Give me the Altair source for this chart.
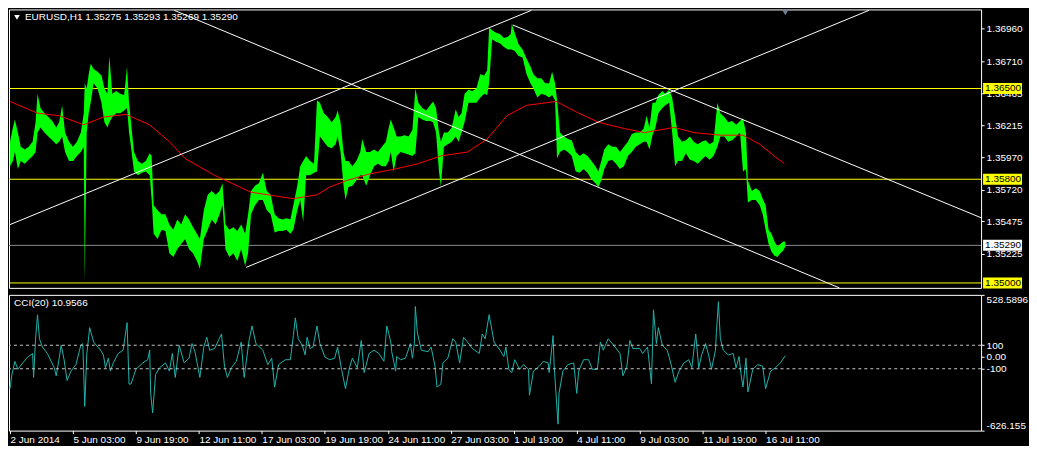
import altair as alt
import pandas as pd

# ---------------- data ----------------
# hourly bar index (0 = first bar on screen) and sampled high / low prices
bar_x = [
    0, 3, 5, 8, 11, 15, 19, 23, 26, 28,
    31, 35, 39, 43, 47, 50, 53, 56, 60, 64,
    68, 72, 75, 76, 78, 80, 82, 85, 89, 93,
    96, 99, 101, 104, 108, 112, 116, 119, 121, 123,
    126, 130, 134, 138, 142, 144, 146, 150, 154, 158,
    162, 166, 170, 174, 178, 182, 186, 190, 193, 197,
    201, 205, 209, 213, 216, 219, 223, 227, 231, 235,
    239, 242, 245, 249, 253, 257, 261, 265, 269, 273,
    277, 281, 285, 288, 292, 295, 298, 301, 305, 309,
    312, 315, 319, 323, 327, 331, 333, 336, 339, 341,
    344, 348, 352, 356, 358, 362, 366, 370, 374, 378,
    382, 385, 387, 390, 393, 397, 401, 405, 409, 412,
    415, 419, 423, 427, 430, 433, 436, 438, 441, 445,
    449, 453, 456, 459, 462, 466, 470, 474, 478, 482,
    485, 487, 490, 494, 498, 502, 506, 509, 510, 513,
    517, 521, 525, 529, 532, 536, 540, 544, 548, 551,
    554, 556, 559, 563, 567, 571, 575, 579, 583, 587,
    591, 595, 598, 601, 604, 608, 612, 616, 620, 624,
    628, 632, 636, 640, 644, 647, 650, 653, 656, 659,
    663, 666, 670, 673, 676, 679, 683, 687, 691, 695,
    699, 703, 707, 711, 715, 719, 722, 726, 730, 734,
    738, 742, 745, 748, 750, 754, 758, 762, 765, 768,
    771, 774, 777, 780, 783, 786, 788,
]
bar_high = [
    1.3609, 1.3620, 1.3626, 1.3616, 1.3605, 1.3603, 1.3605, 1.3609, 1.3624, 1.3646,
    1.3635, 1.3631, 1.3628, 1.3625, 1.3620, 1.3624, 1.3637, 1.3616, 1.3609, 1.3605,
    1.3609, 1.3616, 1.3631, 1.3654, 1.3650, 1.3661, 1.3669, 1.3665, 1.3663, 1.3660,
    1.3650, 1.3646, 1.3675, 1.3646, 1.3648, 1.3646, 1.3645, 1.3667, 1.3639, 1.3624,
    1.3601, 1.3594, 1.3592, 1.3594, 1.3600, 1.3598, 1.3560, 1.3556, 1.3553, 1.3553,
    1.3545, 1.3541, 1.3549, 1.3545, 1.3553, 1.3549, 1.3543, 1.3538, 1.3534, 1.3556,
    1.3568, 1.3571, 1.3568, 1.3571, 1.3577, 1.3545, 1.3541, 1.3543, 1.3540, 1.3545,
    1.3538, 1.3553, 1.3571, 1.3575, 1.3577, 1.3585, 1.3571, 1.3568, 1.3553, 1.3550,
    1.3549, 1.3550, 1.3549, 1.3560, 1.3575, 1.3590, 1.3594, 1.3598, 1.3594, 1.3592,
    1.3641, 1.3639, 1.3631, 1.3628, 1.3624, 1.3628, 1.3633, 1.3624, 1.3601, 1.3594,
    1.3594, 1.3590, 1.3594, 1.3601, 1.3611, 1.3601, 1.3601, 1.3603, 1.3601, 1.3605,
    1.3609, 1.3620, 1.3626, 1.3620, 1.3613, 1.3613, 1.3614, 1.3613, 1.3618, 1.3650,
    1.3639, 1.3635, 1.3633, 1.3637, 1.3640, 1.3635, 1.3616, 1.3609, 1.3616, 1.3616,
    1.3620, 1.3634, 1.3628, 1.3631, 1.3646, 1.3649, 1.3648, 1.3650, 1.3661, 1.3660,
    1.3664, 1.3697, 1.3695, 1.3693, 1.3692, 1.3689, 1.3690, 1.3692, 1.3700, 1.3693,
    1.3684, 1.3680, 1.3673, 1.3667, 1.3661, 1.3658, 1.3658, 1.3654, 1.3654, 1.3663,
    1.3654, 1.3641, 1.3616, 1.3613, 1.3611, 1.3610, 1.3601, 1.3598, 1.3600, 1.3598,
    1.3594, 1.3590, 1.3586, 1.3594, 1.3603, 1.3607, 1.3605, 1.3605, 1.3601, 1.3605,
    1.3609, 1.3615, 1.3616, 1.3616, 1.3619, 1.3629, 1.3620, 1.3639, 1.3639, 1.3645,
    1.3648, 1.3646, 1.3649, 1.3643, 1.3628, 1.3613, 1.3609, 1.3610, 1.3613, 1.3609,
    1.3607, 1.3609, 1.3610, 1.3607, 1.3609, 1.3639, 1.3631, 1.3628, 1.3624, 1.3625,
    1.3622, 1.3625, 1.3627, 1.3616, 1.3579, 1.3571, 1.3573, 1.3571, 1.3565, 1.3560,
    1.3541, 1.3538, 1.3532, 1.3528, 1.3530, 1.3532, 1.3532,
]
bar_low = [
    1.3590, 1.3594, 1.3601, 1.3588, 1.3594, 1.3592, 1.3595, 1.3598, 1.3601, 1.3616,
    1.3620, 1.3616, 1.3613, 1.3610, 1.3607, 1.3609, 1.3613, 1.3601, 1.3594, 1.3594,
    1.3598, 1.3601, 1.3605, 1.3501, 1.3616, 1.3631, 1.3639, 1.3654, 1.3650, 1.3639,
    1.3624, 1.3620, 1.3624, 1.3628, 1.3631, 1.3631, 1.3633, 1.3635, 1.3616, 1.3605,
    1.3586, 1.3583, 1.3585, 1.3586, 1.3583, 1.3564, 1.3538, 1.3534, 1.3541, 1.3540,
    1.3523, 1.3520, 1.3526, 1.3530, 1.3534, 1.3526, 1.3523, 1.3517, 1.3511, 1.3534,
    1.3541, 1.3549, 1.3545, 1.3553, 1.3560, 1.3526, 1.3520, 1.3523, 1.3517, 1.3526,
    1.3513, 1.3523, 1.3553, 1.3560, 1.3564, 1.3564, 1.3556, 1.3553, 1.3539, 1.3540,
    1.3540, 1.3541, 1.3538, 1.3541, 1.3556, 1.3564, 1.3547, 1.3583, 1.3583, 1.3585,
    1.3586, 1.3613, 1.3609, 1.3605, 1.3604, 1.3607, 1.3613, 1.3601, 1.3575, 1.3564,
    1.3574, 1.3575, 1.3579, 1.3583, 1.3583, 1.3575, 1.3583, 1.3590, 1.3592, 1.3590,
    1.3590, 1.3594, 1.3601, 1.3586, 1.3598, 1.3601, 1.3600, 1.3599, 1.3598, 1.3600,
    1.3628, 1.3626, 1.3625, 1.3625, 1.3624, 1.3616, 1.3586, 1.3574, 1.3605, 1.3607,
    1.3609, 1.3613, 1.3609, 1.3616, 1.3624, 1.3639, 1.3639, 1.3639, 1.3643, 1.3646,
    1.3645, 1.3654, 1.3688, 1.3686, 1.3685, 1.3682, 1.3680, 1.3680, 1.3680, 1.3679,
    1.3675, 1.3674, 1.3661, 1.3654, 1.3650, 1.3643, 1.3646, 1.3645, 1.3643, 1.3645,
    1.3641, 1.3596, 1.3601, 1.3603, 1.3601, 1.3598, 1.3586, 1.3585, 1.3588, 1.3585,
    1.3580, 1.3577, 1.3574, 1.3579, 1.3588, 1.3594, 1.3595, 1.3592, 1.3588, 1.3590,
    1.3598, 1.3601, 1.3605, 1.3607, 1.3609, 1.3609, 1.3603, 1.3614, 1.3620, 1.3631,
    1.3635, 1.3637, 1.3639, 1.3616, 1.3590, 1.3594, 1.3594, 1.3600, 1.3595, 1.3594,
    1.3592, 1.3595, 1.3598, 1.3595, 1.3598, 1.3605, 1.3613, 1.3613, 1.3609, 1.3610,
    1.3613, 1.3616, 1.3586, 1.3588, 1.3562, 1.3564, 1.3564, 1.3560, 1.3553, 1.3541,
    1.3530, 1.3524, 1.3521, 1.3520, 1.3523, 1.3525, 1.3528,
]

# moving average (red)
ma_x = [0, 28, 50, 75, 95, 118, 142, 162, 178, 208,
        245, 288, 312, 325, 342, 365, 392, 415, 438, 465,
        485, 505, 525, 555, 578, 598, 625, 645, 675, 695,
        722, 745, 762, 775, 787]
ma_val = [1.3640, 1.3631, 1.3629, 1.3622, 1.3628, 1.3630, 1.3622, 1.3609, 1.3596, 1.3583,
          1.3570, 1.3565, 1.3568, 1.3574, 1.3579, 1.3584, 1.3588, 1.3592, 1.3598, 1.3601,
          1.3611, 1.3629, 1.3637, 1.3640, 1.3631, 1.3624, 1.3619, 1.3616, 1.3620, 1.3616,
          1.3614, 1.3614, 1.3607, 1.3599, 1.3592]

# trend lines (two points each)
trend_id = ["A", "A", "B", "B", "C", "C", "D", "D"]
trend_bar = [0, 530, 240, 873, 167, 843, 511, 987]
trend_price = [1.35450, 1.37103, 1.35120, 1.37103, 1.37103, 1.34962, 1.36990, 1.35503]

# horizontal levels
level_prices = [1.36500, 1.35800, 1.35000]
level_labels = ["1.36500", "1.35800", "1.35000"]
bid_price = [1.35290]
bid_label = ["1.35290"]
shift_bar = [788]

price_ticks = [1.36960, 1.36710, 1.36465, 1.36215, 1.35970, 1.35720, 1.35475, 1.35225]

# CCI(20)
cci_x = [
    0, 2, 5, 8, 13, 18, 23, 24, 26, 28,
    30, 33, 38, 45, 47, 50, 52, 55, 58, 62,
    67, 72, 74, 76, 78, 81, 85, 92, 95, 97,
    100, 102, 105, 110, 115, 119, 121, 123, 128, 135,
    140, 142, 143, 145, 148, 152, 158, 162, 165, 168,
    172, 177, 182, 185, 188, 193, 197, 200, 203, 208,
    215, 218, 221, 225, 230, 235, 238, 243, 246, 250,
    257, 262, 266, 269, 273, 280, 285, 288, 290, 293,
    297, 300, 302, 305, 308, 312, 315, 320, 325, 330,
    333, 337, 341, 345, 348, 353, 357, 360, 365, 370,
    375, 380, 383, 385, 387, 388, 392, 393, 397, 402,
    407, 409, 411, 412, 414, 418, 425, 428, 432, 434,
    438, 440, 445, 450, 453, 457, 461, 465, 470, 477,
    480, 483, 487, 492, 498, 502, 504, 507, 510, 513,
    518, 522, 527, 528, 532, 538, 542, 547, 548, 552,
    553, 557, 558, 562, 567, 573, 576, 578, 583, 588,
    592, 597, 600, 603, 608, 615, 620, 623, 627, 630,
    633, 640, 643, 648, 652, 654, 657, 659, 663, 668,
    672, 676, 680, 685, 690, 693, 697, 700, 703, 707,
    710, 713, 717, 718, 720, 722, 725, 730, 735, 738,
    741, 743, 745, 748, 750, 755, 760, 765, 768, 773,
    778, 783, 788,
]
cci_val = [
    -270, -147, -37, -105, -50, 0, 30, -174, 155, 360,
    155, 85, 30, -92, -160, -10, 100, -23, -200, -120,
    -65, 100, 114, -420, 18, 250, 127, 58, 18, -92,
    -10, -120, -50, 30, 58, 292, -230, -230, -105, -50,
    -23, 58, -310, -475, -147, -92, -50, -120, 30, -174,
    100, -50, -10, 114, 45, -174, 85, 168, 58, 72,
    196, -78, -174, -92, -37, 127, -174, 141, 264, 114,
    58, -65, -10, -256, -65, -23, -23, 182, 333, 155,
    100, 18, 168, 72, 85, 264, 114, 0, -23, -10,
    85, -105, -270, -92, -10, -92, 141, -133, 30, 58,
    30, -37, 264, 200, 127, 45, -120, 4, -23, -10,
    114, -10, 114, 429, 210, 58, 45, 85, -78, -256,
    -230, -50, -10, 155, 127, -50, 168, 127, 72, 30,
    196, 155, 360, 127, 58, 4, 85, -105, -133, -23,
    -105, -65, -105, -325, -120, -78, -37, -50, -133, 182,
    -65, -571, -310, -120, -65, -50, -310, -120, -23, -23,
    -105, -105, 127, 58, 155, 85, 30, -160, -78, 141,
    72, 72, 30, 85, -230, 401, 114, 250, 100, 58,
    -65, -215, -120, -50, -23, -92, 196, -92, 18, 114,
    18, -105, 58, 210, 470, 155, 58, 18, 30, -92,
    4, -147, -256, -10, -297, -105, -65, -78, -270, -120,
    -92, -50, 11,
]
cci_levels = [100, -100]
cci_tick_values = [528.5896, 100, 0, -100, -626.155]
cci_tick_labels = ["528.5896", "100", "0.00", "-100", "-626.155"]

time_ticks = [0, 64, 128, 192, 256, 320, 384, 448, 512, 576, 640, 704, 768]
time_labels = ["2 Jun 2014", "5 Jun 03:00", "9 Jun 19:00", "12 Jun 11:00", "17 Jun 03:00",
               "19 Jun 19:00", "24 Jun 11:00", "27 Jun 03:00", "1 Jul 19:00", "4 Jul 11:00",
               "9 Jul 03:00", "11 Jul 19:00", "16 Jul 11:00"]

header_text = "EURUSD,H1  1.35275 1.35293 1.35269 1.35290"
cci_text = "CCI(20) 10.9566"

# ---------------- layout / style ----------------
W = 974
H1 = 279
H2 = 136
FONT = "Liberation Sans"
FS = 10
x_scale = alt.Scale(domain=[-1, 987], nice=False, zero=False)
p_scale = alt.Scale(domain=[1.34962, 1.37110], nice=False, zero=False)
c_scale = alt.Scale(domain=[-626.155, 528.5896], nice=False, zero=False)
BOX = "M-1,-0.282H1V0.282H-1Z"
BOX_W = 39

price_df = pd.DataFrame({"bar": bar_x, "high": bar_high, "low": bar_low})
ma_df = pd.DataFrame({"bar": ma_x, "ma": ma_val})
trend_df = pd.DataFrame({"line": trend_id, "bar": trend_bar, "price": trend_price})
lvl_df = pd.DataFrame({"price": level_prices, "label": level_labels})
bid_df = pd.DataFrame({"price": bid_price, "label": bid_label})
shift_df = pd.DataFrame({"bar": shift_bar})
cci_df = pd.DataFrame({"bar": cci_x, "cci": cci_val})
cci_lvl_df = pd.DataFrame({"cci": cci_levels})
one = pd.DataFrame({"t": [header_text]})
one_cci = pd.DataFrame({"t": [cci_text]})

price_axis = alt.Axis(orient="right", values=price_ticks, format=".5f", title=None,
                      grid=False, domain=False, tickSize=3, tickColor="white",
                      labelColor="white", labelFont=FONT, labelFontSize=FS,
                      labelPadding=2, labelOverlap=False)


def py(field):
    return alt.Y(field, scale=p_scale, axis=price_axis, title=None)


def px(field="bar:Q"):
    return alt.X(field, scale=x_scale, axis=None)


levels = alt.Chart(lvl_df).mark_rule(color="#ffff00", strokeWidth=1).encode(y=py("price:Q"))
bid = alt.Chart(bid_df).mark_rule(color="#8c8c8c", strokeWidth=1).encode(y=py("price:Q"))
green = alt.Chart(price_df).mark_area(color="#00ff00", opacity=1, clip=True).encode(
    x=px(), y=py("low:Q"), y2="high:Q")
ma = alt.Chart(ma_df).mark_line(color="#ff0000", strokeWidth=1, clip=True).encode(
    x=px(), y=py("ma:Q"))
trend = alt.Chart(trend_df).mark_line(color="white", strokeWidth=1, clip=True).encode(
    x=px(), y=py("price:Q"), detail="line:N")
lvl_box = alt.Chart(lvl_df).mark_point(shape=BOX, size=BOX_W * BOX_W, filled=True,
                                       opacity=1, color="#ffff00", strokeWidth=0).encode(
    x=alt.value(W + 2 + BOX_W / 2), y=py("price:Q"))
bid_box = alt.Chart(bid_df).mark_point(shape=BOX, size=BOX_W * BOX_W, filled=True,
                                       opacity=1, color="#ffffff", strokeWidth=0).encode(
    x=alt.value(W + 2 + BOX_W / 2), y=py("price:Q"))
lvl_txt = alt.Chart(lvl_df).mark_text(align="left", baseline="middle", font=FONT,
                                      fontSize=FS, color="black").encode(
    x=alt.value(W + 4), y=py("price:Q"), text="label:N")
bid_txt = alt.Chart(bid_df).mark_text(align="left", baseline="middle", font=FONT,
                                      fontSize=FS, color="black").encode(
    x=alt.value(W + 4), y=py("price:Q"), text="label:N")
hdr_tri = alt.Chart(one).mark_point(shape="triangle-down", filled=True, size=32,
                                    opacity=1, color="white").encode(
    x=alt.value(8), y=alt.value(8))
hdr_txt = alt.Chart(one).mark_text(align="left", baseline="middle", font=FONT,
                                   fontSize=FS, color="white").encode(
    x=alt.value(16), y=alt.value(8), text="t:N")
shift = alt.Chart(shift_df).mark_point(shape="triangle-down", filled=True, size=45,
                                       opacity=1, color="#6f7f8f").encode(
    x=px(), y=alt.value(3))

top = alt.layer(levels, bid, green, ma, trend, lvl_box, bid_box, lvl_txt, bid_txt,
                hdr_tri, hdr_txt, shift).properties(width=W, height=H1)

time_expr = ("[" + ",".join("'%s'" % s for s in time_labels) + "][indexof(["
             + ",".join(str(t) for t in time_ticks) + "], datum.value)]")
cci_expr = ("[" + ",".join("'%s'" % s for s in cci_tick_labels) + "][indexof(["
            + ",".join(str(v) for v in cci_tick_values) + "], datum.value)]")

x_axis = alt.Axis(values=time_ticks, labelExpr=time_expr, labelAlign="left",
                  labelBaseline="top", labelPadding=1, tickSize=3, tickColor="white",
                  labelColor="white", labelFont=FONT, labelFontSize=FS, domain=False,
                  grid=False, title=None, labelOverlap=False, labelFlush=False)
cci_axis = alt.Axis(orient="right", values=cci_tick_values, labelExpr=cci_expr,
                    labelFlush=True, tickSize=3, tickColor="white", labelColor="white",
                    labelFont=FONT, labelFontSize=FS, labelPadding=2, domain=False,
                    grid=False, title=None, labelOverlap=False)


def cy(field):
    return alt.Y(field, scale=c_scale, axis=cci_axis, title=None)


cci_rules = alt.Chart(cci_lvl_df).mark_rule(color="#c8c8c8", strokeDash=[3, 3],
                                            strokeWidth=1).encode(y=cy("cci:Q"))
cci_line = alt.Chart(cci_df).mark_line(color="#20b2aa", strokeWidth=1, clip=True).encode(
    x=alt.X("bar:Q", scale=x_scale, axis=x_axis, title=None),
    y=cy("cci:Q"))
cci_lbl = alt.Chart(one_cci).mark_text(align="left", baseline="middle", font=FONT,
                                       fontSize=FS, color="white").encode(
    x=alt.value(5), y=alt.value(8), text="t:N")

bottom = alt.layer(cci_line, cci_rules, cci_lbl).properties(width=W, height=H2)

chart = (alt.vconcat(top, bottom, spacing=4)
         .properties(padding=0, background="black")
         .configure_view(stroke="white", strokeWidth=1))

chart.save("out.html", embed_options={"renderer": "svg", "actions": False})
